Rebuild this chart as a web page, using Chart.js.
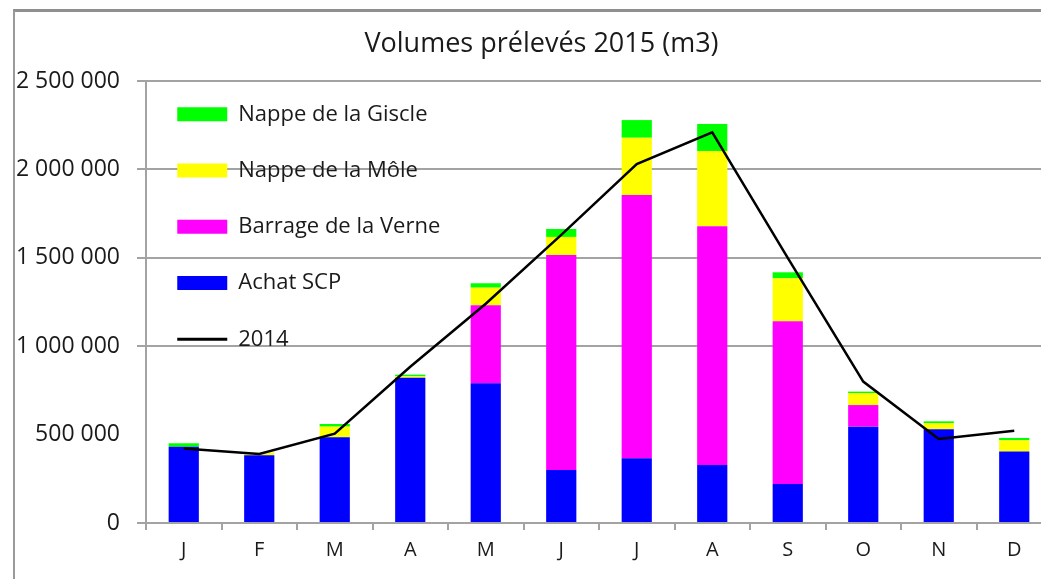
<!DOCTYPE html>
<html><head><meta charset="utf-8">
<script src="https://cdn.jsdelivr.net/npm/chart.js@4"></script>
<style>
html,body{margin:0;padding:0;background:#fff;overflow:hidden;width:1041px;height:579px;}
#wrap{position:relative;width:1041px;height:579px;overflow:hidden;background:#fff;}
#c{position:absolute;left:0;top:0;}
#frame{position:absolute;left:13px;top:9px;width:1100px;height:700px;border-top:3px solid #8f8f8f;border-left:2px solid #9a9a9a;pointer-events:none;}
</style></head><body>
<div id="wrap"><canvas id="c" width="1065" height="579" style="width:1065px;height:579px"></canvas><div id="frame"></div></div>
<script>
const months = ['J','F','M','A','M','J','J','A','S','O','N','D'];
const achatSCP = [431000, 383000, 485000, 822000, 790000, 300000, 366000, 328000, 221000, 545000, 530000, 405000];
const barrageVerne = [0, 0, 0, 0, 441000, 1216000, 1489000, 1350000, 920000, 122000, 0, 0];
const nappeMole = [0, 15000, 60000, 8000, 100000, 102000, 324000, 426000, 243000, 67000, 34000, 63000];
const nappeGiscle = [20000, 0, 15000, 9000, 25000, 45000, 100000, 153000, 34000, 9000, 11000, 13000];
const line2014 = [422000, 390000, 505000, 884000, 1240000, 1630000, 2030000, 2210000, 1500000, 800000, 475000, 522000];
const yTickValues = [0, 500000, 1000000, 1500000, 2000000, 2500000];
const yTickLabels = ['0', '500 000', '1 000 000', '1 500 000', '2 000 000', '2 500 000'];
const legendOrder = ['Nappe de la Giscle', 'Nappe de la Môle', 'Barrage de la Verne', 'Achat SCP', '2014'];

const FONT = "'Open Sans', 'Liberation Sans', sans-serif";
const GRID = '#a3a3a3';
const TEXT = '#1a1a1a';

const shiftBoxes = {
  id: 'shiftBoxes',
  afterLayout(chart) {
    const lg = chart.legend;
    if (lg) {
      const dx = -3;
      const newTop = chart.chartArea.top - 12;
      const dy = newTop - lg.top;
      lg.left += dx; lg.right += dx; lg.top += dy; lg.bottom += dy;
    }
    const tb = chart.titleBlock;
    if (tb) { tb.left += 10.5; tb.right += 10.5; }
  }
};

new Chart(document.getElementById('c'), {
  type: 'bar',
  data: {
    labels: months,
    datasets: [
      { label: 'Achat SCP', data: achatSCP, backgroundColor: '#0000ff', stack: 'v' },
      { label: 'Barrage de la Verne', data: barrageVerne, backgroundColor: '#ff00ff', stack: 'v' },
      { label: 'Nappe de la Môle', data: nappeMole, backgroundColor: '#ffff00', stack: 'v' },
      { label: 'Nappe de la Giscle', data: nappeGiscle, backgroundColor: '#00ff00', stack: 'v' },
      { type: 'line', label: '2014', data: line2014, borderColor: '#000000', backgroundColor: '#000000',
        borderWidth: 2.5, pointRadius: 0, tension: 0, fill: false, stack: 'l', order: -1 }
    ]
  },
  options: {
    responsive: false,
    animation: false,
    devicePixelRatio: 1,
    layout: { padding: { left: 10, right: 13, top: 0, bottom: 0 } },
    datasets: { bar: { barPercentage: 0.4, categoryPercentage: 1.0, borderWidth: 0 } },
    plugins: {
      title: {
        display: true, text: 'Volumes prélevés 2015 (m3)', color: TEXT,
        font: { family: FONT, size: 27, weight: 'normal', lineHeight: 1.2 },
        padding: { top: 28, bottom: 20.6 }
      },
      tooltip: { enabled: false },
      legend: {
        position: 'chartArea', align: 'start',
        labels: {
          color: TEXT, font: { family: FONT, size: 22 }, padding: 34.25,
          usePointStyle: true, pointStyleWidth: 50, boxHeight: 14,
          generateLabels(chart) {
            const items = Chart.defaults.plugins.legend.labels.generateLabels(chart);
            items.forEach(it => {
              const ds = chart.data.datasets[it.datasetIndex];
              if (ds.type === 'line') { it.pointStyle = 'line'; it.lineWidth = 3; it.strokeStyle = '#000'; }
              else { it.pointStyle = 'rect'; it.lineWidth = 0; it.strokeStyle = ds.backgroundColor; }
            });
            return items;
          },
          sort(a, b) { return legendOrder.indexOf(a.text) - legendOrder.indexOf(b.text); }
        }
      }
    },
    scales: {
      x: {
        stacked: true,
        grid: { offset: true, drawOnChartArea: false, drawTicks: true, tickLength: 7, color: GRID, lineWidth: 2 },
        border: { display: true, color: GRID, width: 2 },
        ticks: { color: TEXT, font: { family: FONT, size: 20 }, padding: 8, maxRotation: 0, autoSkip: false },
        afterFit(scale) { scale.height = 56; }
      },
      y: {
        stacked: true, min: 0, max: 2500000,
        afterBuildTicks(scale) { scale.ticks = yTickValues.map(v => ({ value: v })); },
        grid: {
          drawTicks: true, tickLength: 9, lineWidth: 2,
          color: ctx => (ctx.tick && ctx.tick.value === 500000) ? 'rgba(0,0,0,0)' : GRID
        },
        border: { display: true, color: GRID, width: 2 },
        ticks: {
          color: TEXT, font: { family: FONT, size: 23 }, padding: 17,
          callback: (v, i) => yTickLabels[yTickValues.indexOf(v)]
        },
        afterFit(scale) { scale.width = 136; }
      }
    }
  },
  plugins: [shiftBoxes]
});
</script>
</body></html>
